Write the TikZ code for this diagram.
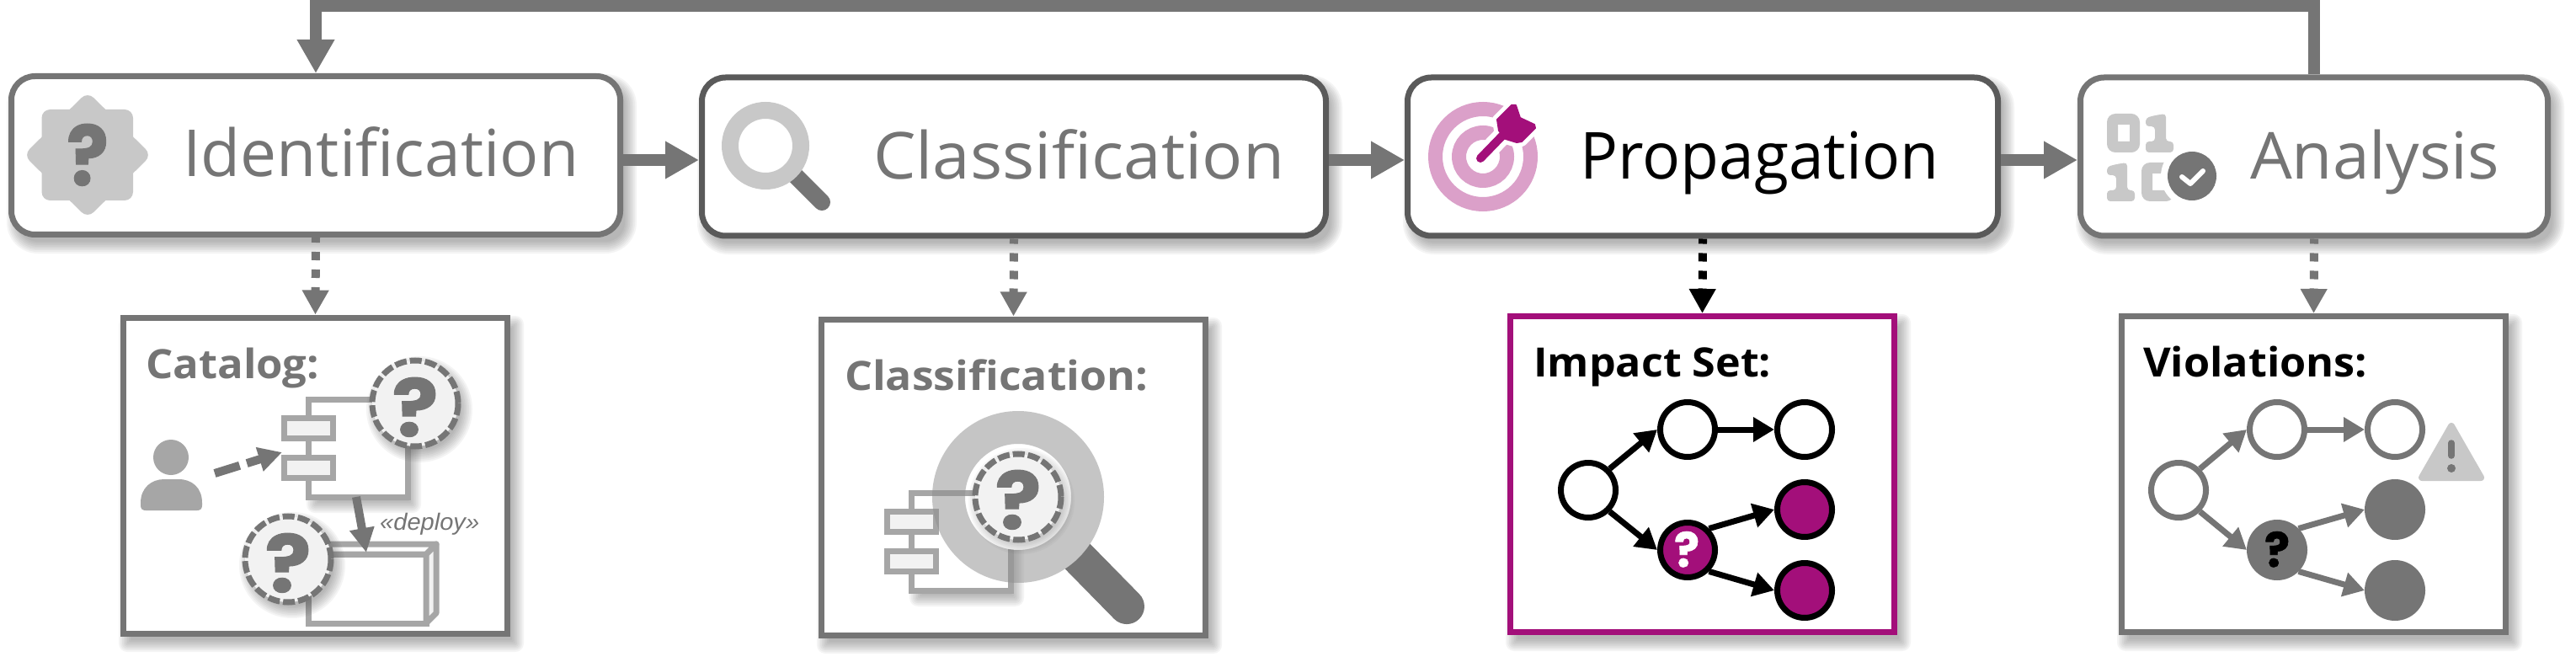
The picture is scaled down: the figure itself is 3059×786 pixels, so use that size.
\documentclass[tikz,border=0pt]{standalone}
\usepackage{fontspec}
\usepackage{graphicx}
\setmainfont{Open Sans}
\newfontfamily\titlef{Open Sans}[Ligatures=NoCommon]
\newfontfamily\boldf{Open Sans}[BoldFont={Open Sans Bold}]
\newfontfamily\qmf{Poppins Bold}[FakeBold=1]
\newfontfamily\itf{Liberation Sans Italic}
\usetikzlibrary{arrows.meta,calc}
\definecolor{gr}{HTML}{757575}
\definecolor{grd}{HTML}{5A5A5A}
\definecolor{grl}{HTML}{C8C8C8}
\definecolor{grm}{HTML}{A6A6A6}
\definecolor{pale}{HTML}{F2F2F2}
\definecolor{plum}{HTML}{A30F7A}
\definecolor{pink}{HTML}{DBA0C9}
\definecolor{lens}{HTML}{8D8D8D}
\newcommand{\fitw}[2]{\resizebox{#1}{\height}{#2}}
\newcommand{\fitq}[2]{\resizebox{#1}{#2}{?}}
\newcommand{\softbox}[5]{%
  \foreach \e in {9,7,5,3,1,-1,-3,-5}{%
    \pgfmathsetlengthmacro\myrad{max(#5+\e,1)}%
    \fill[black!75,opacity=.055,rounded corners=\myrad]
      ({#1-\e+7},{#2-\e+10}) rectangle ({#3+\e+7},{#4+\e+10});}}
\newcommand{\softdisc}[3]{%
  \foreach \e in {9,7,5,3,1,-1,-3,-5}{%
    \fill[black!75,opacity=.055] ({#1+5},{#2+7}) circle[radius={#3+\e}];}}
\newcommand{\qcircle}[3]{%
  \softdisc{#1}{#2}{54}%
  \fill[pale] (#1,#2) circle[radius=51];
  \draw[qdash] (#1,#2) circle[radius=51];
  \node[qglyph,anchor=base] at (#1,#3) {\fitq{55pt}{70pt}};}
\newcommand{\compo}[2]{%
  \softbox{#1}{#2}{#1+118}{#2+116}{1}%
  \draw[compline,fill=white] (#1,#2) rectangle ({#1+118},{#2+116});
  \draw[compline,fill=pale] ({#1-29},{#2+22.5}) rectangle ({#1+29},{#2+46.5});
  \draw[compline,fill=pale] ({#1-29},{#2+69.5}) rectangle ({#1+29},{#2+93.5});}
\tikzset{
  x=1pt,y=-1pt,
  procbox/.style={draw=#1,line width=7pt,fill=white,rounded corners=28pt,minimum height=188pt,inner sep=0pt},
  outbox/.style={draw=#1,line width=7pt,fill=white,minimum width=456pt,minimum height=375pt,inner sep=0pt},
  title/.style={anchor=base west,inner sep=0pt,font=\titlef\fontsize{77}{80}\selectfont,text=#1},
  head/.style={anchor=base west,inner sep=0pt,font=\boldf\bfseries\fontsize{48}{50}\selectfont,text=#1},
  qglyph/.style={inner sep=0pt,text=gr,font=\qmf\fontsize{100}{100}\selectfont},
  qdash/.style={draw=gr,line width=7pt,dash pattern=on 14pt off 4pt},
  compline/.style={draw=grm,line width=7pt},
  flow/.style={draw=#1,line width=14pt,-{Triangle[length=40pt,width=42pt]}},
  result/.style={draw=#1,line width=10pt,dash pattern=on 10pt off 11pt,dash phase=4pt,-{Triangle[length=29pt,width=30pt]}},
  gnode/.style={circle,draw=#1,line width=7pt,minimum size=65pt,inner sep=0pt,fill=white},
  gedge/.style={draw=#1,line width=7pt,-{Triangle[length=25pt,width=28pt]}},
}
\begin{document}
\begin{tikzpicture}
\useasboundingbox (0,0) rectangle (3059,786);
\fill[white] (0,0) rectangle (3059,786);
% shadows
\softbox{10}{87}{740}{282}{28}
\softbox{830}{89}{1578}{283}{28}
\softbox{1668}{89}{2376}{283}{28}
\softbox{2467}{89}{3029}{283}{28}
\softbox{143}{374}{606}{755}{1}
\softbox{972}{376}{1435}{757}{1}
\softbox{1790}{372}{2253}{754}{1}
\softbox{2516}{372}{2979}{754}{1}
% process boxes
\node[procbox=gr,minimum width=723pt] (id) at (375,184.5) {};
\node[procbox=grd,minimum width=741pt] (cl) at (1204,186) {};
\node[procbox=grd,minimum width=701pt] (pr) at (2022,186) {};
\node[procbox=gr,minimum width=555pt] (an) at (2748,186) {};
% output boxes
\node[outbox=gr] (cat) at (374.5,564.5) {};
\node[outbox=gr] (cls) at (1203.5,566.5) {};
\node[outbox=plum] (imp) at (2021.5,563) {};
\node[outbox=gr] (vio) at (2747.5,563) {};
% connectors
\coordinate (fb) at (0,7.5);
\coordinate (lvl) at (0,190);
\draw[flow=gr,line join=miter] (an.north) -- (an.north |- fb) -- (id.north |- fb) -- (id.north);
\draw[flow=gr] (id.east |- lvl) -- (cl.west |- lvl);
\draw[flow=gr] (cl.east |- lvl) -- (pr.west |- lvl);
\draw[flow=gr] (pr.east |- lvl) -- (an.west |- lvl);
\draw[result=gr] (id.south) -- (cat.north);
\draw[result=gr] (cl.south) -- (cls.north);
\draw[result=black] (pr.south) -- (imp.north);
\draw[result=gr] (an.south) -- (vio.north);
% titles
\node[title=gr] (t1) at (217,210) {\fitw{470pt}{Identification}};
\node[title=gr] (t2) at (1037,213) {\fitw{488pt}{Classification}};
\node[title=black] (t3) at (1876,213) {\fitw{426pt}{Propagation}};
\node[title=gr] (t4) at (2672,213) {\fitw{296pt}{Analysis}};
% identification icon
\fill[grl,rounded corners=10pt] (49.5,130) rectangle (158,238);
\fill[grl,rounded corners=10pt] (104,109) -- (180,184) -- (104,259) -- (28,184) -- cycle;
\node[qglyph,anchor=base] (q1) at (104,220) {\fitq{50pt}{73pt}};
% classification icon
\draw[gr,line width=20pt,line cap=round] (945,209) -- (976,240);
\draw[grl,line width=20pt,fill=white] (909,173) circle[radius=42];
% propagation icon
\draw[pink,line width=17pt] (1761,186) circle[radius=56.5];
\draw[pink,line width=17pt] (1761,186) circle[radius=28.5];
\draw[white,line width=22pt,line cap=round] (1758,188) -- (1790,155);
\fill[white,draw=white,line width=12pt,line join=round] (1778,142) -- (1795,125) -- (1800,125) -- (1805,140) -- (1822,148) -- (1823,152) -- (1807,168) -- (1801,169) -- (1788,165) -- (1780,155) -- cycle;
\draw[plum,line width=10pt,line cap=round] (1758,188) -- (1790,155);
\fill[plum,draw=plum,line width=2pt,line join=round] (1778,142) -- (1795,125) -- (1800,125) -- (1805,140) -- (1822,148) -- (1823,152) -- (1807,168) -- (1801,169) -- (1788,165) -- (1780,155) -- cycle;
% analysis icon
\newcommand{\zero}[2]{\fill[grl,even odd rule] [rounded corners=10pt] (#1,#2) rectangle ({#1+39},{#2+46}) [sharp corners] ({#1+13},{#2+13}) rectangle ({#1+27},{#2+33});}
\newcommand{\one}[2]{\fill[grl,rounded corners=4pt] ({#1+11},{#2+2}) -- ({#1+24},{#2}) -- ({#1+24},{#2+33}) -- ({#1+33},{#2+33}) -- ({#1+33},{#2+46}) -- (#1,{#2+46}) -- (#1,{#2+33}) -- ({#1+11},{#2+33}) -- ({#1+11},{#2+15}) -- (#1,{#2+15}) -- (#1,{#2+5}) -- cycle;}
\zero{2502}{135}
\one{2548}{135}
\one{2502}{193}
\zero{2543}{193}
\fill[white] (2603,209) circle[radius=37];
\fill[gr] (2603,209) circle[radius=29];
\draw[white,line width=6pt,line cap=round,line join=round] (2591,210) -- (2601,218) -- (2616,203);
% catalog content
\node[head=gr] (h1) at (173,449) {\fitw{206pt}{Catalog:}};
\fill[grm] (203,543) circle[radius=21];
\fill[grm] (167,597) .. controls (167,579) and (180,569) .. (195,569) -- (212,569) .. controls (228,569) and (240,579) .. (240,597) -- (240,600) .. controls (240,604) and (238,606) .. (234,606) -- (173,606) .. controls (169,606) and (167,604) .. (167,600) -- cycle;
\compo{366}{474}
\draw[compline,fill=white,line join=miter] (366,658) rectangle (506,740);
\draw[compline,fill=pale,line join=round] (506,658) -- (518,646) -- (518,728) -- (506,740) -- cycle;
\draw[compline,fill=white,line join=round] (366,658) -- (385,646) -- (518,646) -- (506,658) -- cycle;
\qcircle{493}{479}{518}
\qcircle{342}{664}{703}
\coordinate (u1) at (255,562);
\coordinate (u2) at (335,537);
\draw[gr,line width=10pt,dash pattern=on 31pt off 9pt,-{Triangle[length=28pt,width=28pt]}] (u1) -- (u2);
\coordinate (d1) at (423,590);
\coordinate (d2) at (435,656);
\draw[gr,line width=10pt,-{Triangle[length=29pt,width=28pt]}] (d1) -- (d2);
\node[anchor=base west,inner sep=0pt,text=gr,font=\itf\fontsize{28}{30}\selectfont] (dep) at (451,629) {\fitw{118pt}{«deploy»}};
% classification content
\node[head=gr] (h2) at (1003,463) {\fitw{360pt}{Classification:}};
\compo{1082}{585}
\fill[gr] (1294.4,645.7) -- (1352.8,705.2) arc[start angle=-45,end angle=135,radius=21] -- (1264.7,675.4) arc[start angle=56.9,end angle=33.1,radius=102] -- cycle;
\fill[white] (1209,590) circle[radius=63];
\draw[compline] (1146,585) -- (1160,585);
\fill[lens,opacity=.5,even odd rule] (1209,590) circle[radius=102] (1209,590) circle[radius=63];
\foreach \e in {9,7,5,3,1,-1,-3,-5}{\fill[black!75,opacity=.04] (1213,595) circle[radius={54+\e}];}
\fill[pale] (1209,590) circle[radius=51];
\draw[qdash] (1209,590) circle[radius=51];
\node[qglyph,anchor=base] (q3) at (1209,628) {\fitq{55pt}{70pt}};
% impact set
\node[head=black] (h3) at (1821,447) {\fitw{282pt}{Impact Set:}};
\node[gnode=black] (a1) at (1886,582) {};
\node[gnode=black] (a2) at (2004,510) {};
\node[gnode=black] (a3) at (2143,510) {};
\node[gnode=black,fill=plum] (a4) at (2143,605) {};
\node[gnode=black,fill=plum] (a5) at (2004,653) {};
\node[gnode=black,fill=plum] (a6) at (2143,701) {};
\node[qglyph,anchor=base,text=white] (q4) at (2003,673) {\fitq{30pt}{42pt}};
\draw[gedge=black] (a1.45) -- (a2.west);
\draw[gedge=black] (a2) -- (a3);
\draw[gedge=black] (a1.-45) -- (a5.west);
\draw[gedge=black] (a5.45) -- (a4.west);
\draw[gedge=black] (a5.-45) -- (a6.west);
% violations
\node[head=black] (h4) at (2545,447) {\fitw{266pt}{Violations:}};
\node[gnode=gr] (b1) at (2587,582) {};
\node[gnode=gr] (b2) at (2704,510) {};
\node[gnode=gr] (b3) at (2844,510) {};
\node[gnode=gr,fill=gr] (b4) at (2844,605) {};
\node[gnode=gr,fill=gr] (b5) at (2704,653) {};
\node[gnode=gr,fill=gr] (b6) at (2844,701) {};
\node[qglyph,anchor=base,text=black] (q5) at (2704,673) {\fitq{30pt}{42pt}};
\draw[gedge=gr] (b1.45) -- (b2.west);
\draw[gedge=gr] (b2) -- (b3);
\draw[gedge=gr] (b1.-45) -- (b5.west);
\draw[gedge=gr] (b5.45) -- (b4.west);
\draw[gedge=gr] (b5.-45) -- (b6.west);
% warning sign
\fill[grl,draw=grl,line width=8pt,line join=round] (2911,506) -- (2946,567) -- (2876,567) -- cycle;
\draw[gr,line width=7.5pt,line cap=round] (2911,526) -- (2911,541);
\fill[gr] (2911,556) circle[radius=5];
\end{tikzpicture}
\end{document}
